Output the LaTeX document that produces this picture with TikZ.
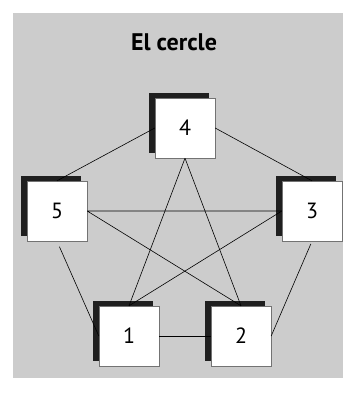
\documentclass[tikz,border=0pt]{standalone}
\usepackage{fontspec}
\setmainfont{PT Sans}
\usetikzlibrary{shadows}

\begin{document}
\begin{tikzpicture}[x=1pt,y=-1pt,
    caixa/.style={draw=black!55,fill=white,minimum size=60pt,inner sep=0pt,
      font=\fontsize{22}{24}\selectfont,
      general shadow={fill=black!88,shadow xshift=-6pt,shadow yshift=5pt}},
    lligam/.style={black,line width=0.6pt}]
    \useasboundingbox (0,0) rectangle (343,394);
    \fill[black!20] (13,13) rectangle (343,378);
    \node[font=\bfseries\fontsize{24}{28}\selectfont] (titol) at (174,42) {El cercle};
    \node[caixa] (4) at (185,128) {4};
    \node[caixa] (5) at (57,211) {5};
    \node[caixa] (3) at (312,211) {3};
    \node[caixa] (1) at (129,336) {1};
    \node[caixa] (2) at (241,336) {2};
    \draw[lligam] (4.west) -- (5.north);
    \draw[lligam] (4.east) -- (3.north);
    \draw[lligam] (4.south) -- (1.north) (4.south) -- (2.north);
    \draw[lligam] (5.east) -- (3.west) (5.east) -- (2.north);
    \draw[lligam] (3.west) -- (1.north);
    \draw[lligam,shorten <=6pt] (5.south) -- (1.west);
    \draw[lligam,shorten <=3pt] (3.south) -- (2.east);
    \draw[lligam] (1.east) -- (2.west);
\end{tikzpicture}
\end{document}
